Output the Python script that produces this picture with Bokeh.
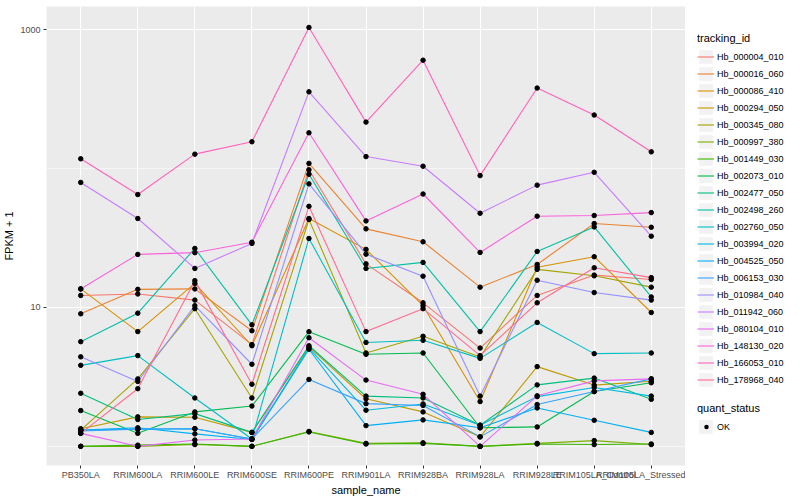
from bokeh.plotting import figure
from bokeh.layouts import row
from bokeh.models import (FactorRange, Range1d, FixedTicker, Legend, LegendItem)
from bokeh.embed import file_html
from bokeh.resources import INLINE

samples = ["PB350LA", "RRIM600LA", "RRIM600LE", "RRIM600SE", "RRIM600PE",
           "RRIM901LA", "RRIM928BA", "RRIM928LA", "RRIM928LE",
           "RRIM105LA_Control", "RRIM105LA_Stressed"]

tracking_ids = ["Hb_000004_010", "Hb_000016_060", "Hb_000086_410", "Hb_000294_050",
                "Hb_000345_080", "Hb_000997_380", "Hb_001449_030", "Hb_002073_010",
                "Hb_002477_050", "Hb_002498_260", "Hb_002760_050", "Hb_003994_020",
                "Hb_004525_050", "Hb_006153_030", "Hb_010984_040", "Hb_011942_060",
                "Hb_080104_010", "Hb_148130_020", "Hb_166053_010", "Hb_178968_040"]

colors = ["#F8766D", "#EA8331", "#D89000", "#C09B00", "#A3A500", "#7CAE00",
          "#39B600", "#00BB4E", "#00BF7D", "#00C1A3", "#00BFC4", "#00BAE0",
          "#00B0F6", "#35A2FF", "#9590FF", "#C77CFF", "#E76BF3", "#FA62DB",
          "#FF62BC", "#FF6C91"]

# FPKM + 1 values, one list per tracking_id (order of samples)
hb_000004_010 = [12.2, 12.5, 11.3, 5.4, 98.0, 20.6, 10.8, 5.1, 12.2, 17.1, 15.9]
hb_000016_060 = [9.0, 13.5, 13.6, 6.8, 109.0, 36.8, 29.7, 14.0, 20.4, 40.2, 37.8]
hb_000086_410 = [13.6, 6.7, 14.9, 5.3, 43.7, 26.2, 10.3, 2.1, 19.5, 23.2, 9.2]
hb_000294_050 = [1.34, 1.63, 1.62, 1.26, 5.2, 2.2, 1.77, 1.17, 3.75, 2.76, 2.94]
hb_000345_080 = [1.31, 3.06, 9.8, 2.23, 43.0, 4.7, 6.2, 4.4, 18.8, 16.9, 14.0]
hb_000997_380 = [1.0, 1.0, 1.03, 1.0, 1.28, 1.05, 1.06, 1.0, 1.05, 1.1, 1.03]
hb_001449_030 = [1.0, 1.02, 1.04, 1.0, 1.27, 1.04, 1.05, 1.0, 1.04, 1.03, 1.04]
hb_002073_010 = [1.81, 1.24, 1.77, 1.95, 6.69, 4.6, 4.7, 1.36, 1.38, 2.48, 2.87]
hb_002477_050 = [2.41, 1.56, 1.72, 1.26, 5.3, 2.3, 2.23, 1.42, 2.77, 3.1, 2.18]
hb_002498_260 = [5.67, 9.1, 26.6, 7.5, 91.0, 19.1, 21.1, 6.7, 25.3, 38.0, 11.9]
hb_002760_050 = [3.83, 4.5, 2.23, 1.13, 31.4, 5.6, 5.8, 4.3, 7.8, 4.65, 4.7]
hb_003994_020 = [1.31, 1.33, 1.34, 1.13, 5.1, 1.82, 2.02, 1.42, 2.28, 2.65, 2.3]
hb_004525_050 = [1.31, 1.36, 1.23, 1.12, 5.0, 1.41, 1.55, 1.36, 1.89, 1.54, 1.26]
hb_006153_030 = [1.29, 1.33, 1.34, 1.13, 3.03, 2.03, 1.97, 1.17, 2.0, 2.48, 3.06]
hb_010984_040 = [4.41, 2.93, 10.3, 3.9, 77.6, 24.2, 16.8, 2.3, 15.7, 12.8, 11.3]
hb_011942_060 = [79.5, 43.7, 19.1, 28.9, 357.0, 122.0, 104.0, 47.7, 76.0, 94.0, 32.6]
hb_080104_010 = [1.24, 1.0, 1.11, 1.13, 6.05, 3.0, 2.37, 1.0, 2.31, 2.96, 3.06]
hb_148130_020 = [13.6, 24.1, 24.8, 29.5, 181.0, 42.0, 65.6, 24.9, 45.4, 45.9, 48.2]
hb_166053_010 = [117.6, 65.0, 127.0, 156.0, 1038.0, 216.0, 603.0, 89.0, 380.0, 243.0, 132.0]
hb_178968_040 = [1.24, 2.6, 15.6, 2.8, 53.5, 6.7, 9.8, 4.5, 10.8, 19.3, 16.4]

series_values = [hb_000004_010, hb_000016_060, hb_000086_410, hb_000294_050,
                 hb_000345_080, hb_000997_380, hb_001449_030, hb_002073_010,
                 hb_002477_050, hb_002498_260, hb_002760_050, hb_003994_020,
                 hb_004525_050, hb_006153_030, hb_010984_040, hb_011942_060,
                 hb_080104_010, hb_148130_020, hb_166053_010, hb_178968_040]

y_ticks = [10, 1000]
y_minor = [1, 100]

FONT = "Liberation Sans"

p = figure(x_range=FactorRange(factors=samples, range_padding=0.1,
                               range_padding_units="absolute"),
           y_range=Range1d(10 ** -0.138, 10 ** 3.167),
           y_axis_type="log", width=685, height=498,
           min_border_left=44, min_border_right=0, min_border_top=6,
           min_border_bottom=31, output_backend="svg", toolbar_location=None,
           background_fill_color="#EBEBEB", border_fill_color="white",
           outline_line_color=None)

ticker = FixedTicker(ticks=y_ticks, minor_ticks=y_minor)
p.yaxis.ticker = ticker
p.ygrid.ticker = ticker
p.yaxis.major_label_overrides = {10: "10", 1000: "1000"}

p.xgrid.grid_line_color = "white"
p.xgrid.grid_line_width = 1.1
p.ygrid.grid_line_color = "white"
p.ygrid.grid_line_width = 1.1
p.ygrid.minor_grid_line_color = "white"
p.ygrid.minor_grid_line_width = 0.55

for ax in (p.xaxis[0], p.yaxis[0]):
    ax.axis_line_color = None
    ax.major_tick_line_color = "#333333"
    ax.major_tick_line_width = 1
    ax.major_tick_out = 3
    ax.major_tick_in = 0
    ax.minor_tick_line_color = None
    ax.major_label_text_font = FONT
    ax.major_label_text_font_size = "9px"
    ax.major_label_text_color = "#4D4D4D"
    ax.axis_label_text_font = FONT
    ax.axis_label_text_font_size = "11px"
    ax.axis_label_text_font_style = "normal"
    ax.axis_label_text_color = "black"

p.xaxis.major_label_standoff = 1
p.xaxis.axis_label_standoff = 1
p.yaxis.major_label_standoff = 2
p.yaxis.axis_label_standoff = 2

p.xaxis.axis_label = "sample_name"
p.yaxis.axis_label = "FPKM + 1"

for name, col, vals in zip(tracking_ids, colors, series_values):
    p.line(x=samples, y=vals, line_color=col, line_width=1.1)

px, py = [], []
for vals in series_values:
    px.extend(samples)
    py.extend(vals)
p.scatter(x=px, y=py, size=4.5, color="black")

# ---- legend panel (separate figure on the right) ----
lg = figure(width=111, height=498, x_range=Range1d(0, 1), y_range=Range1d(0, 1),
            min_border=0, output_backend="svg", toolbar_location=None,
            x_axis_location=None, y_axis_location=None,
            outline_line_color=None, background_fill_color="white",
            border_fill_color="white")
lg.xgrid.visible = False
lg.ygrid.visible = False

# dummy renderers kept outside the visible range: only their legend keys show
off = [10, 11]
key_bg = lg.rect(x=off, y=off, width=1, height=1, fill_color="#F2F2F2",
                 line_color=None)
items = []
for name, col in zip(tracking_ids, colors):
    r = lg.line(x=off, y=off, line_color=col, line_width=1.1)
    items.append(LegendItem(label=name, renderers=[key_bg, r]))
# a single round dot in the middle of the key (zero-length dash, round cap)
dot = lg.line(x=off, y=off, line_color="black", line_width=4.5,
              line_cap="round", line_dash="0 20", line_dash_offset=11)


def style_legend(leg):
    leg.title_text_font = FONT
    leg.title_text_font_size = "11px"
    leg.title_text_font_style = "normal"
    leg.title_text_color = "black"
    leg.title_standoff = 4
    leg.label_text_font = FONT
    leg.label_text_font_size = "9px"
    leg.label_text_color = "black"
    leg.glyph_width = 17
    leg.glyph_height = 17
    leg.label_height = 17
    leg.label_standoff = 3
    leg.spacing = 0
    leg.padding = 0
    leg.margin = 0
    leg.border_line_color = None
    leg.background_fill_alpha = 0


leg1 = Legend(items=items, location=(12, 77), title="tracking_id")
style_legend(leg1)
lg.add_layout(leg1)

leg2 = Legend(items=[LegendItem(label="OK", renderers=[key_bg, dot])],
              location=(12, 30), title="quant_status")
style_legend(leg2)
lg.add_layout(leg2)

layout = row(p, lg)
open("out.html", "w").write(file_html(layout, INLINE))
